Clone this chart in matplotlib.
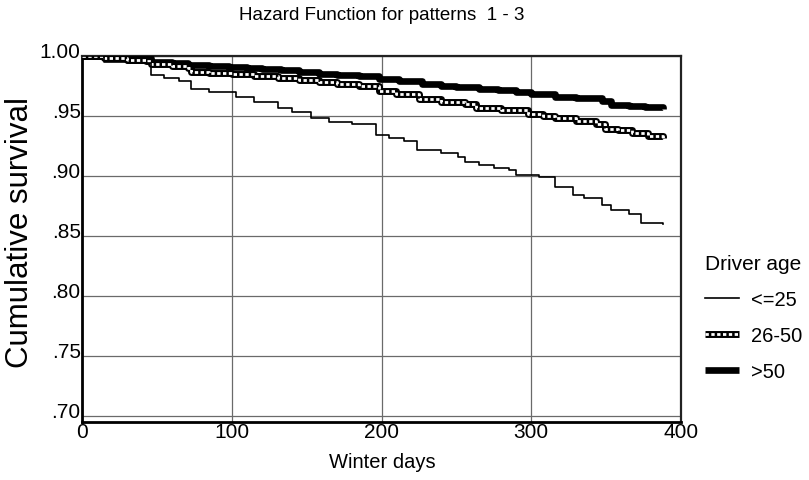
import matplotlib
matplotlib.use("Agg")
import matplotlib.pyplot as plt
from matplotlib.lines import Line2D
from matplotlib.legend_handler import HandlerTuple
from matplotlib.transforms import ScaledTranslation

plt.rcParams['font.family'] = ['Liberation Sans', 'DejaVu Sans']

# step points (day, cumulative survival)
days_young = [0, 15, 30, 46, 55, 65, 73, 85, 103, 115, 131, 140, 153, 165, 180, 196, 205, 215,
              224, 240, 251, 256, 265, 275, 285, 290, 305, 316, 328, 335, 347, 353, 365, 373, 388]
surv_young = [1.000, 0.995, 0.994, 0.984, 0.982, 0.979, 0.9725, 0.970, 0.966, 0.962, 0.957, 0.953,
              0.948, 0.945, 0.943, 0.934, 0.932, 0.929, 0.922, 0.919, 0.916, 0.912, 0.909, 0.907,
              0.905, 0.901, 0.899, 0.891, 0.884, 0.882, 0.876, 0.872, 0.868, 0.861, 0.860]

days_mid = [0, 15, 30, 43, 46, 60, 71, 73, 85, 100, 115, 131, 145, 158, 170, 185, 198, 210, 225,
            240, 256, 263, 280, 298, 308, 316, 330, 343, 349, 358, 367, 378, 388]
surv_mid = [1.000, 0.998, 0.997, 0.996, 0.993, 0.992, 0.990, 0.987, 0.986, 0.985, 0.983, 0.982,
            0.980, 0.978, 0.977, 0.975, 0.971, 0.968, 0.964, 0.962, 0.960, 0.957, 0.955, 0.952,
            0.950, 0.948, 0.946, 0.943, 0.939, 0.938, 0.936, 0.933, 0.932]

days_old = [0, 30, 46, 60, 71, 85, 98, 110, 120, 133, 145, 158, 170, 185, 198, 212, 227, 240, 250,
            265, 278, 290, 300, 316, 330, 347, 353, 365, 376, 388]
surv_old = [1.000, 0.998, 0.995, 0.994, 0.9925, 0.992, 0.991, 0.990, 0.989, 0.988, 0.987, 0.985,
            0.984, 0.983, 0.981, 0.979, 0.977, 0.975, 0.974, 0.9725, 0.972, 0.970, 0.968, 0.966,
            0.965, 0.9625, 0.959, 0.958, 0.9575, 0.956]

x_ticks = [0, 100, 200, 300, 400]
y_ticks = [0.70, 0.75, 0.80, 0.85, 0.90, 0.95, 1.00]
y_labels = ['.70', '.75', '.80', '.85', '.90', '.95', '1.00']

fig = plt.figure(figsize=(8.09, 4.81), dpi=100)
ax = fig.add_axes([0.1014, 0.1206, 0.7404, 0.7609])

ax.plot(days_old, surv_old, drawstyle='steps-post', color='black', lw=4.8,
        solid_capstyle='butt', zorder=3)
ax.plot(days_mid, surv_mid, drawstyle='steps-post', color='black', lw=5.0,
        solid_capstyle='butt', zorder=4)
ax.plot(days_mid, surv_mid, drawstyle='steps-post', color='white', lw=2.0,
        dashes=(1.2, 0.9), zorder=5)
ax.plot(days_young, surv_young, drawstyle='steps-post', color='black', lw=1.2, zorder=6)

ax.set_xlim(0, 400)
ax.set_ylim(0.695, 1.00)
ax.set_xticks(x_ticks)
ax.set_yticks(y_ticks)
ax.set_yticklabels(y_labels)
ax.tick_params(length=0, labelsize=15)
ax.tick_params(axis='x', pad=0)
ax.tick_params(axis='y', pad=1)
shift = ScaledTranslation(0, 6 / 100, fig.dpi_scale_trans)
for lbl in ax.get_yticklabels():
    lbl.set_transform(lbl.get_transform() + shift)
ax.grid(True, color='#6a6a6a', lw=0.9)
ax.set_axisbelow(True)

for side in ['left', 'bottom']:
    ax.spines[side].set_linewidth(2.0)
    ax.spines[side].set_color('black')
for side in ['top', 'right']:
    ax.spines[side].set_linewidth(1.6)
    ax.spines[side].set_color('#222222')

fig.text(382 / 809, 1 - 15 / 481, 'Hazard Function for patterns  1 - 3',
         ha='center', va='center', fontsize=13.5)
fig.text(382 / 809, 1 - 463 / 481, 'Winter days', ha='center', va='center', fontsize=14.5)
fig.text(20 / 809, 1 - 233 / 481, 'Cumulative survival', ha='center', va='center',
         rotation=90, fontsize=22.5)

h_young = Line2D([], [], color='black', lw=1.2)
h_mid = (Line2D([], [], color='black', lw=5.0, solid_capstyle='butt'),
         Line2D([], [], color='white', lw=2.0, dashes=(1.2, 0.9)))
h_old = Line2D([], [], color='black', lw=4.8, solid_capstyle='butt')

leg = fig.legend([h_young, h_mid, h_old], ['<=25', '26-50', '>50'],
                 handler_map={tuple: HandlerTuple(ndivide=1, pad=0)},
                 title='Driver age', title_fontsize=15, fontsize=14.5,
                 loc='upper left', bbox_to_anchor=(0.859, 0.491),
                 frameon=False, borderpad=0, handlelength=1.7, handletextpad=0.6,
                 labelspacing=0.85, alignment='left')

fig.savefig('out.png', dpi=100)
